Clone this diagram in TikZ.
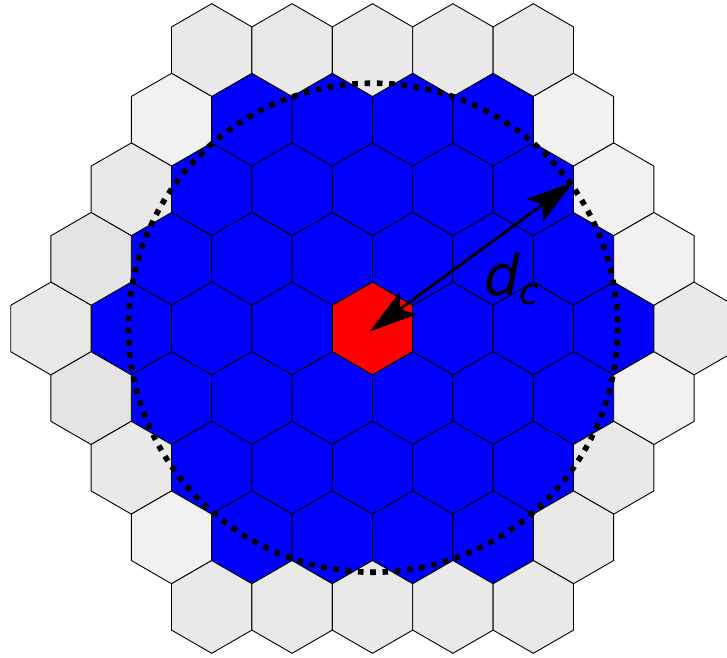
\documentclass[tikz,border=0pt]{standalone}
\usepackage{fontspec}
\newfontfamily\djv{DejaVu Sans}
\usetikzlibrary{arrows.meta}
\definecolor{hexblue}{RGB}{0,0,255}
\definecolor{hexred}{RGB}{255,0,0}
\definecolor{grA}{RGB}{233,233,233}
\definecolor{grB}{RGB}{241,241,241}
\definecolor{grC}{RGB}{228,228,228}
\def\cx{372.5}\def\cy{328.5}\def\hw{80.4}\def\hr{46.4}\def\rs{69.6}
\newcommand\hexat[3]{%
  \pgfmathsetmacro\hx{\cx+(#1+#2/2)*\hw}%
  \pgfmathsetmacro\hy{\cy+#2*\rs}%
  \draw[hexcell,fill=#3,shift={(\hx,\hy)}] (30:\hr) -- (90:\hr) -- (150:\hr) -- (210:\hr) -- (270:\hr) -- (330:\hr) -- cycle;%
}
\begin{document}
\begin{tikzpicture}[x=1pt,y=-1pt,
  hexcell/.style={draw=black,line width=0.9pt,line join=miter},
  dotring/.style={draw=black,line width=5.6pt,dash pattern=on 5.6pt off 6.7pt},
  radarrow/.style={draw=black,line width=2.8pt,{Stealth[length=48pt,width=28pt,inset=10pt]}-{Stealth[length=48pt,width=28pt,inset=10pt]}},
  lbl/.style={anchor=base west,inner sep=0pt,font=\djv\itshape\fontsize{56}{56}\selectfont}]
\useasboundingbox (0,0) rectangle (727,657);
\foreach \r in {-3,...,3}{
  \foreach \q in {-3,...,3}{
    \pgfmathtruncatemacro\dd{max(abs(\q),abs(\r),abs(\q+\r))}
    \ifnum\dd<4
      \ifnum\dd=0 \hexat{\q}{\r}{hexred}\else\hexat{\q}{\r}{hexblue}\fi
    \fi
  }
}
\foreach \q/\r/\c in {0/-4/grA,1/-4/grA,2/-4/grA,3/-4/grA,4/-4/grA,
  -1/-3/grB,4/-3/grB,-2/-2/grA,4/-2/grB,-3/-1/grC,4/-1/grB,
  -4/0/grA,4/0/grA,-4/1/grC,3/1/grB,-4/2/grA,2/2/grA,-4/3/grB,1/3/grA,
  -4/4/grA,-3/4/grA,-2/4/grA,-1/4/grA,0/4/grA}{
  \hexat{\q}{\r}{\c}
}
\coordinate (ctr) at (373,327.7);
\draw[dotring] (ctr) circle[radius=244.5];
\coordinate (tipA) at (369.5,331.5);
\coordinate (tipB) at (573.5,182);
\draw[radarrow] (tipA) -- (tipB);
\node[lbl] (dc) at (484,295) {d\raisebox{-9.5pt}{\fontsize{36}{36}\selectfont c}};
\end{tikzpicture}
\end{document}
